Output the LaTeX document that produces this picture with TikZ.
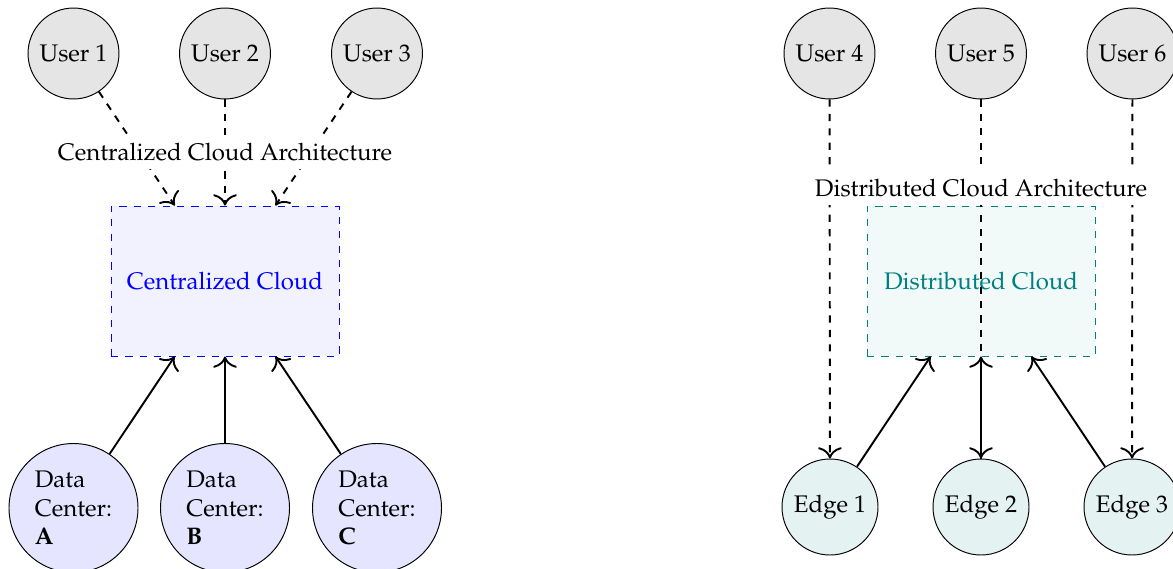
\documentclass[tikz,border=0pt]{standalone}
\usepackage[T1]{fontenc}
\usepackage{mathpazo}
\usetikzlibrary{arrows.meta}
\begin{document}
\begin{tikzpicture}[x=0.41667pt,y=-0.41667pt,
  user/.style={circle,draw,fill=gray!20,minimum size=37.9pt,inner sep=0pt},
  dcen/.style={circle,draw,fill=blue!10,minimum size=53.75pt,inner sep=0pt,align=left},
  edgen/.style={circle,draw,fill=teal!10,minimum size=40pt,inner sep=0pt},
  cloudc/.style={draw=blue,dashed,fill=blue!5,text=blue,minimum width=95pt,minimum height=62.5pt},
  cloudd/.style={draw=teal,dashed,fill=teal!5,text=teal,minimum width=95pt,minimum height=62.5pt},
  darr/.style={-{To[scale=1.4]},thick,dashed},
  sarr/.style={-{To[scale=1.4]},thick},
  lbl/.style={fill=white}]
\useasboundingbox (0,0) rectangle (1173,569);
\clip (0,0) rectangle (1173,569);
% centralized
\node[cloudc] (cc) at (225,281) {Centralized Cloud};
\node[user] (u1) at (73.5,53.5) {User 1};
\node[user] (u2) at (225,53.5) {User 2};
\node[user] (u3) at (377,53.5) {User 3};
\node[dcen] (da) at (73.5,508) {Data\\Center:\\\textbf{A}};
\node[dcen] (db) at (225,508) {Data\\Center:\\\textbf{B}};
\node[dcen] (dc) at (377,508) {Data\\Center:\\\textbf{C}};
\draw[darr] (u1) -- (cc);
\draw[darr] (u3) -- (cc);
\draw[darr] (u2) -- node[lbl] {Centralized Cloud Architecture} (cc);
\draw[sarr] (da) -- (cc);
\draw[sarr] (db) -- (cc);
\draw[sarr] (dc) -- (cc);
% distributed
\node[cloudd] (dcl) at (981,281) {Distributed Cloud};
\node[user] (u4) at (829.5,53.5) {User 4};
\node[user] (u5) at (981,53.5) {User 5};
\node[user] (u6) at (1132.5,53.5) {User 6};
\node[edgen] (e1) at (830,507) {Edge 1};
\node[edgen] (e2) at (981,507) {Edge 2};
\node[edgen] (e3) at (1132,507) {Edge 3};
\draw[darr] (u4) -- (e1);
\draw[darr] (u5) -- (e2);
\draw[darr] (u6) -- (e3);
\draw[sarr] (e1) -- (dcl);
\draw[sarr] (e2) -- (dcl);
\draw[sarr] (e3) -- (dcl);
\node[lbl] (dlab) at (981,188) {Distributed Cloud Architecture};
\end{tikzpicture}
\end{document}
